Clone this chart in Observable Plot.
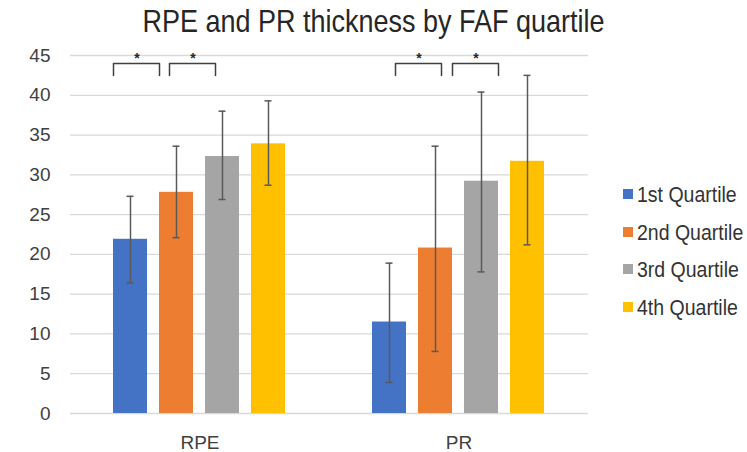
<!DOCTYPE html>
<html>
<head>
<meta charset="utf-8">
<script src="https://cdn.jsdelivr.net/npm/d3@7"></script>
<script src="https://cdn.jsdelivr.net/npm/@observablehq/plot@0.6"></script>
<style>
  body { margin: 0; background: #fff; font-family: "Liberation Sans", Arial, sans-serif; }
  #wrap { position: relative; width: 747px; height: 452px; overflow: hidden; background: #fff; }
  #title { position: absolute; left: 0; top: 9px; width: 747px; text-align: center; font-size: 27px; line-height: 27px; color: #262626; white-space: nowrap; transform: scaleY(1.17); transform-origin: center; }
  #chart { position: absolute; left: 0; top: 40px; }
  #ylabel { position: absolute; left: 15px; top: 235px; transform: translate(-50%, -50%) rotate(-90deg); white-space: nowrap; font-size: 17px; color: #404040; }
  .leg { position: absolute; left: 623px; height: 24px; display: flex; align-items: center; white-space: nowrap; font-size: 19.5px; color: #333; }
  .leg span { display: inline-block; transform: scaleY(1.1); }
  .sw { width: 10px; height: 10px; margin-right: 4px; }
</style>
</head>
<body>
<div id="wrap">
  <div id="title">RPE and PR thickness by FAF quartile</div>
  <div id="ylabel">Mean thickness (um)</div>
  <div id="chart"></div>
  <div id="legend"></div>
</div>
<script>
// ---- data ----
const groups = ["RPE", "PR"];
const quartiles = ["1st Quartile", "2nd Quartile", "3rd Quartile", "4th Quartile"];
const colors = ["#4472C4", "#ED7D31", "#A5A5A5", "#FFC000"];
const rpeMean = [21.9, 27.8, 32.3, 33.9];
const rpeLow  = [16.4, 22.1, 26.9, 28.7];
const rpeHigh = [27.3, 33.6, 38.0, 39.3];
const prMean  = [11.5, 20.8, 29.2, 31.7];
const prLow   = [3.9, 7.8, 17.8, 21.2];
const prHigh  = [18.9, 33.6, 40.4, 42.5];
const yTicks  = [0, 5, 10, 15, 20, 25, 30, 35, 40, 45];
const brackets = [
  {group: "RPE", from: "1st Quartile", to: "2nd Quartile", label: "*"},
  {group: "RPE", from: "2nd Quartile", to: "3rd Quartile", label: "*"},
  {group: "PR",  from: "1st Quartile", to: "2nd Quartile", label: "*"},
  {group: "PR",  from: "2nd Quartile", to: "3rd Quartile", label: "*"}
];
const bracketLow = 42.5, bracketHigh = 44;

// ---- table ----
const means = [rpeMean, prMean], lows = [rpeLow, prLow], highs = [rpeHigh, prHigh];
const data = [];
groups.forEach((g, gi) => quartiles.forEach((q, qi) => data.push({
  group: g, quartile: q, mean: means[gi][qi], low: lows[gi][qi], high: highs[gi][qi]
})));

// ---- styling offsets for brackets (pixels) ----
const bracketShift = [-17, -7, 6, 17];
const step = 47;

const marks = [
  Plot.ruleY(yTicks, {stroke: "#d9d9d9", strokeWidth: 1.3}),
  Plot.barY(data, {fx: "group", x: "quartile", y: "mean", fill: "quartile"}),
  Plot.ruleX(data, {fx: "group", x: "quartile", y1: "low", y2: "high", stroke: "#595959", strokeWidth: 1.5}),
  Plot.tickY(data, {fx: "group", x: "quartile", y: "low", stroke: "#595959", strokeWidth: 1.5, insetLeft: 13.5, insetRight: 13.5}),
  Plot.tickY(data, {fx: "group", x: "quartile", y: "high", stroke: "#595959", strokeWidth: 1.5, insetLeft: 13.5, insetRight: 13.5}),
  Plot.axisY(yTicks, {tickSize: 0, tickPadding: 20, label: null})
];
brackets.forEach((b, i) => {
  const pts = [
    {group: b.group, q: b.from, y: bracketLow},
    {group: b.group, q: b.from, y: bracketHigh},
    {group: b.group, q: b.to, y: bracketHigh},
    {group: b.group, q: b.to, y: bracketLow}
  ];
  marks.push(Plot.line(pts, {fx: "group", x: "q", y: "y", dx: bracketShift[i], stroke: "#404040", strokeWidth: 1.5, strokeLinejoin: "round"}));
  marks.push(Plot.text([b], {fx: "group", x: "from", y: () => bracketHigh, text: "label", dx: bracketShift[i] + step / 2, dy: -5, fontSize: 14, fontWeight: "bold", fill: "#262626"}));
});

const chart = Plot.plot({
  width: 747,
  height: 412,
  marginTop: 15,
  marginBottom: 39,
  marginLeft: 70,
  marginRight: 159,
  style: {fontFamily: "'Liberation Sans', Arial, sans-serif", fontSize: "19px", color: "#404040", background: "white", overflow: "visible"},
  fx: {domain: groups, padding: 0, label: null, axis: "bottom", tickSize: 0, tickPadding: 22},
  x: {domain: quartiles, paddingInner: 12 / 47, paddingOuter: 0.883, axis: null},
  y: {domain: [0, 45], label: null},
  color: {domain: quartiles, range: colors},
  marks
});
document.getElementById("chart").appendChild(chart);

// ---- legend ----
const legendRows = [194, 232, 269, 307];
const legend = document.getElementById("legend");
quartiles.forEach((q, i) => {
  const row = document.createElement("div");
  row.className = "leg";
  row.style.top = (legendRows[i] - 12) + "px";
  const sw = document.createElement("div");
  sw.className = "sw";
  sw.style.background = colors[i];
  const t = document.createElement("span");
  t.textContent = q;
  row.appendChild(sw);
  row.appendChild(t);
  legend.appendChild(row);
});
</script>
</body>
</html>
